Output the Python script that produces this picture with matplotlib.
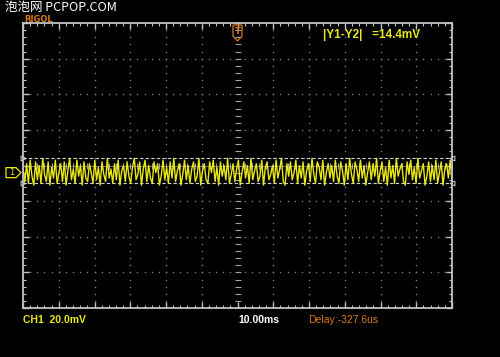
import numpy as np
import matplotlib.pyplot as plt
from matplotlib.patches import Polygon

# --- scope settings ---
VOLT_DIV = 20.0      # mV / div
TIME_DIV = 10.0      # ms / div
CH1_OFFSET = -4.0    # mV, ground marker level
CURSOR_Y1 = 4.4      # mV
CURSOR_Y2 = -10.0    # mV

# CH1 trace, mV (roughly)
ch1_mv = [
    -2, -9, 1, -10, 3, -6, -11, 2, -8, 0, -10, 4, -5, -9, 2, -11, -1, -7, 3, -10,
    -4, 1, -9, 2, -11, -3, 4, -8, -2, -10, 3, -6, 0, -11, 2, -7, -9, 1, -4, -10,
    3, -8, -1, -11, 2, -5, -9, 4, -7, -2, -10, 1, -8, 3, -11, -3, 0, -9, 2, -6,
    -10, -1, 4, -8, -5, 2, -11, -2, 3, -9, 0, -7, -10, 2, -4, 1, -11, -6, 3, -8,
    -1, -10, 2, -7, 4, -9, -3, 1, -11, -5, 3, -8, 0, -10, -2, 2, -9, -6, 4, -11,
    -3, 1, -8, -10, 2, -4, 3, -9, -1, -11, 2, -6, 0, -8, 4, -10, -5, 1, -9, -2,
    3, -11, -4, 2, -7, 0, -10, 4, -8, -3, 1, -9, -6, 3, -11, -1, 2, -8, -5, 0,
    -10, 3, -7, -2, 4, -9, -11, 1, -6, 2, -8, -4, 3, -10, 0, -7, 2, -11, -3, 1,
    -9, 4, -5, -10, 2, -1, -8, 3, -11, -4, 1, -7, 0, -9, 3, -6, -10, 2, -3, -11,
    1, -8, 4, -5, -10, 2, -2, -9, 3, -7, 0, -11, -4, 2, -8, 1, -6, 4, -10, -3,
    2, -9, -1, -11, 3, -7, 0, -10, 4, -6, -2, 1, -9, -11, 2, -5, 3, -8, -1, -10,
    4, -7, -3, 1, -11, -6, 2, -9, 0, -8, 3, -10, -4, 2, -11, -2, 1, -7, 3, -9,
]

FRAME = '#c4c4c4'
GRIDC = '#7c7c7c'
YELLOW = '#e8e81a'
ORANGE = '#d87a18'

W, H = 500, 357
fig = plt.figure(figsize=(W / 100, H / 100), dpi=100, facecolor='black')
ax = fig.add_axes([23 / W, 1 - 308 / H, 429 / W, 285 / H])
ax.set_facecolor('black')
xmax = 6 * TIME_DIV
ymax = 4 * VOLT_DIV
ax.set_xlim(-xmax, xmax)
ax.set_ylim(-ymax, ymax)

for s in ax.spines.values():
    s.set_color(FRAME)
    s.set_linewidth(1.3)
ax.set_xticks(np.arange(-xmax, xmax + 1, TIME_DIV))
ax.set_yticks(np.arange(-ymax, ymax + 1, VOLT_DIV))
ax.set_xticks(np.arange(-xmax, xmax + 1, TIME_DIV / 5), minor=True)
ax.set_yticks(np.arange(-ymax, ymax + 1, VOLT_DIV / 5), minor=True)
ax.tick_params(which='both', direction='in', color=FRAME, top=True, right=True,
               labelbottom=False, labelleft=False)
ax.tick_params(which='major', length=4, width=1)
ax.tick_params(which='minor', length=2.5, width=0.8)

# dotted graticule
yy = np.arange(-ymax, ymax + 0.1, VOLT_DIV / 5)
xx = np.arange(-xmax, xmax + 0.1, TIME_DIV / 5)
for xv in np.arange(-xmax + TIME_DIV, xmax, TIME_DIV):
    ax.plot(np.full_like(yy, xv), yy, 'o', ms=1.1, color=GRIDC, mec='none')
for yv in np.arange(-ymax + VOLT_DIV, ymax, VOLT_DIV):
    ax.plot(xx, np.full_like(xx, yv), 'o', ms=1.1, color=GRIDC, mec='none')

# centre cross with ticks
ax.axhline(0, color='#a8a8a8', lw=0.6, alpha=0.8)
ax.plot(xx, np.zeros_like(xx), '|', ms=4, color='#a8a8a8', mew=0.7)
ax.plot(np.zeros_like(yy), yy, '_', ms=4, color='#a8a8a8', mew=0.7)

# cursors
for cy in (CURSOR_Y1, CURSOR_Y2):
    ax.axhline(cy, color='#d4d4d4', lw=0.8, ls=(0, (3, 2)))
    ax.plot([-xmax], [cy], '>', ms=3.5, mfc='none', mec='#d4d4d4', mew=0.7, clip_on=False)
    ax.plot([xmax], [cy], '<', ms=3.5, mfc='none', mec='#d4d4d4', mew=0.7, clip_on=False)

# trace
t = np.linspace(-xmax, xmax, len(ch1_mv))
ax.plot(t, ch1_mv, color=YELLOW, lw=1.0)


def px(x, y):
    return x / W, 1 - y / H


# channel 1 ground marker
gy = ax.transData.transform((0, CH1_OFFSET))[1]
gy = H - gy
fig.patches.append(Polygon([px(6, gy - 5), px(16, gy - 5), px(21, gy), px(16, gy + 5), px(6, gy + 5)],
                           closed=True, fill=False, ec=YELLOW, lw=0.9,
                           transform=fig.transFigure))
fig.text(*px(12, gy), '1', color=YELLOW, fontsize=6, ha='center', va='center')

# trigger marker
fig.patches.append(Polygon([px(233, 25), px(242, 25), px(242, 36), px(237.5, 41), px(233, 36)],
                           closed=True, fill=False, ec=ORANGE, lw=0.9,
                           transform=fig.transFigure))
fig.text(*px(237.5, 31), 'T', color=ORANGE, fontsize=6, ha='center', va='center', weight='bold')

# labels
fig.text(*px(5, 8), '泡泡网 PCPOP.COM', color='white', fontsize=9, va='center',
         family=['Noto Sans CJK SC', 'DejaVu Sans'])
fig.text(*px(24, 19), 'RIGOL', color=ORANGE, fontsize=6, va='center', weight='bold')
fig.text(*px(323, 35), '|Y1-Y2|   =14.4mV', color=YELLOW, fontsize=8.5, va='center',
         weight='bold', family='Liberation Sans')
fig.text(*px(23, 320), 'CH1  20.0mV', color=YELLOW, fontsize=7.5, va='center',
         weight='bold', family='Liberation Sans')
fig.text(*px(238, 320), '10.00ms', color='white', fontsize=7.5, va='center',
         weight='bold', family='Liberation Sans')
fig.text(*px(308, 320), 'Delay:-327.6us', color=ORANGE, fontsize=7.5, va='center',
         family='Liberation Sans')

fig.savefig('out.png', dpi=100, facecolor='black')
